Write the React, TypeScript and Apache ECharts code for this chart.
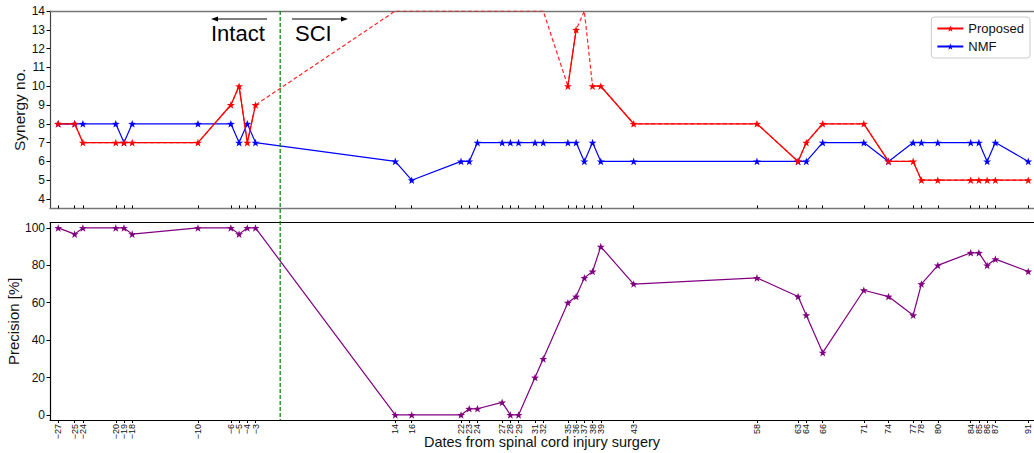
import React, { useEffect, useRef } from "react";
import * as echarts from "echarts";

// Days relative to spinal cord injury surgery
const days = [-27, -25, -24, -20, -19, -18, -10, -6, -5, -4, -3, 14, 16, 22, 23, 24, 27, 28, 29, 31, 32, 35, 36, 37, 38, 39, 43, 58, 63, 64, 66, 71, 74, 77, 78, 80, 84, 85, 86, 87, 91];

// Synergy numbers (null = off the top of the scale)
const proposed = [8, 8, 7, 7, 7, 7, 7, 9, 10, 7, 9, null, null, null, null, null, null, null, null, null, null, 10, 13, null, 10, 10, 8, 8, 6, 7, 8, 8, 6, 6, 5, 5, 5, 5, 5, 5, 5];
const nmf = [8, 8, 8, 8, 7, 8, 8, 8, 7, 8, 7, 6, 5, 6, 6, 7, 7, 7, 7, 7, 7, 7, 7, 6, 7, 6, 6, 6, 6, 6, 7, 7, 6, 7, 7, 7, 7, 7, 6, 7, 6];

// Precision [%]
const precision = [100, 96.7, 100, 100, 100, 96.7, 100, 100, 96.7, 100, 100, 0, 0, 0, 3.3, 3.3, 6.7, 0, 0, 20, 30, 60, 63.3, 73.3, 76.7, 90, 70, 73.3, 63.3, 53.3, 33.3, 66.7, 63.3, 53.3, 70, 80, 86.7, 86.7, 80, 83.3, 76.7];

const synergyTicks = [4, 5, 6, 7, 8, 9, 10, 11, 12, 13, 14];
const precisionTicks = [0, 20, 40, 60, 80, 100];
const SYN_MIN = 3.5;
const SYN_MAX = 14;
const PREC_MIN = -2.7;
const PREC_MAX = 102.8;
const X_MIN = -28;
const X_MAX = 91.7;

const STAR = "path://M0,-10 L2.35,-3.24 L9.51,-3.09 L3.8,1.24 L5.88,8.09 L0,4 L-5.88,8.09 L-3.8,1.24 L-9.51,-3.09 L-2.35,-3.24 Z";
const FONT = "Liberation Sans, Arial, sans-serif";

export default function App() {
  const ref = useRef<HTMLDivElement>(null);
  useEffect(() => {
    if (!ref.current) return;
    const chart = echarts.init(ref.current, undefined, { renderer: "svg" });
    const pair = (arr: (number | null)[]) => days.map((d, i) => [d, arr[i]]);
    const capped = days.map((d, i) => [d, proposed[i] === null ? SYN_MAX : proposed[i]]);

    const tickLabel = { fontFamily: FONT, fontSize: 12, color: "#111" };

    chart.setOption({
      animation: false,
      backgroundColor: "#fff",
      grid: [
        { left: 50, right: 0, top: 11, height: 197.4, show: false, containLabel: false, outerBoundsMode: "none" },
        { left: 50, right: 0, top: 222.7, height: 197.3, show: false, containLabel: false, outerBoundsMode: "none" },
      ],
      xAxis: [
        {
          type: "value", gridIndex: 0, min: X_MIN, max: X_MAX, position: "bottom",
          axisLine: { show: true, onZero: false, lineStyle: { color: "#777", width: 1.3 } },
          axisTick: { show: true, inside: true, length: 3, customValues: days, lineStyle: { color: "#000" } },
          axisLabel: { show: false },
          splitLine: { show: false },
        },
        {
          type: "value", gridIndex: 0, min: X_MIN, max: X_MAX, position: "top",
          axisLine: { show: true, onZero: false, lineStyle: { color: "#777", width: 1.3 } },
          axisTick: { show: false }, axisLabel: { show: false }, splitLine: { show: false },
        },
        {
          type: "value", gridIndex: 1, min: X_MIN, max: X_MAX, position: "bottom",
          name: "Dates from spinal cord injury surgery",
          nameLocation: "middle", nameGap: 14, nameMoveOverlap: false,
          nameTextStyle: { fontFamily: FONT, fontSize: 14.5, color: "#111", verticalAlign: "top" },
          axisLine: { show: true, onZero: false, lineStyle: { color: "#000", width: 1.2 } },
          axisTick: { show: true, length: 3, customValues: days, lineStyle: { color: "#000" } },
          axisLabel: {
            ...tickLabel, fontSize: 9, rotate: 90, margin: 4, customValues: days,
            formatter: (v: number) => (v < 0 ? "\u2212" + Math.abs(v) : String(v)),
          },
          splitLine: { show: false },
        },
        {
          type: "value", gridIndex: 1, min: X_MIN, max: X_MAX, position: "top",
          axisLine: { show: true, onZero: false, lineStyle: { color: "#000", width: 1.2 } },
          axisTick: { show: false }, axisLabel: { show: false }, splitLine: { show: false },
        },
      ],
      yAxis: [
        {
          type: "value", gridIndex: 0, min: SYN_MIN, max: SYN_MAX,
          name: "Synergy no.", nameLocation: "middle", nameGap: 23, nameMoveOverlap: false,
          nameTextStyle: { fontFamily: FONT, fontSize: 15.5, color: "#111" },
          axisLine: { show: true, onZero: false, lineStyle: { color: "#444", width: 1.2 } },
          axisTick: { show: true, length: 3.5, customValues: synergyTicks, lineStyle: { color: "#000" } },
          axisLabel: { ...tickLabel, margin: 5, customValues: synergyTicks },
          splitLine: { show: false },
        },
        {
          type: "value", gridIndex: 1, min: PREC_MIN, max: PREC_MAX,
          name: "Precision [%]", nameLocation: "middle", nameGap: 29, nameMoveOverlap: false,
          nameTextStyle: { fontFamily: FONT, fontSize: 15, color: "#111" },
          axisLine: { show: true, onZero: false, lineStyle: { color: "#000", width: 1.2 } },
          axisTick: { show: true, length: 3.5, customValues: precisionTicks, lineStyle: { color: "#000" } },
          axisLabel: { ...tickLabel, margin: 5, customValues: precisionTicks },
          splitLine: { show: false },
        },
      ],
      legend: {
        orient: "vertical", right: 4, top: 17,
        data: ["Proposed", "NMF"],
        backgroundColor: "#fff",
        borderColor: "#ccc", borderWidth: 1, borderRadius: 3,
        padding: [5, 6, 5, 5], itemGap: 5, itemWidth: 26, itemHeight: 8,
        textStyle: { fontFamily: FONT, fontSize: 13, color: "#111" },
      },
      series: [
        {
          name: "Proposed (off-scale)", type: "line", xAxisIndex: 0, yAxisIndex: 0,
          data: capped, showSymbol: false, symbol: "none", z: 1, clip: true,
          lineStyle: { color: "red", width: 1.2, type: [4, 2.5], opacity: 0.85 },
          itemStyle: { color: "red" },
        },
        {
          name: "Proposed", type: "line", xAxisIndex: 0, yAxisIndex: 0,
          data: pair(proposed), connectNulls: false, symbol: STAR, symbolSize: 8, symbolKeepAspect: true,
          z: 3, lineStyle: { color: "red", width: 1.3 }, itemStyle: { color: "red" },
        },
        {
          name: "NMF", type: "line", xAxisIndex: 0, yAxisIndex: 0,
          data: pair(nmf), symbol: STAR, symbolSize: 8, symbolKeepAspect: true,
          z: 2, lineStyle: { color: "blue", width: 1.2 }, itemStyle: { color: "blue" },
        },
        {
          name: "Precision", type: "line", xAxisIndex: 2, yAxisIndex: 1,
          data: pair(precision), symbol: STAR, symbolSize: 8, symbolKeepAspect: true,
          lineStyle: { color: "#800080", width: 1.2 }, itemStyle: { color: "#800080" },
        },
      ],
    });

    const x0 = chart.convertToPixel({ xAxisIndex: 0 }, 0) as number;
    const yTop = chart.convertToPixel({ yAxisIndex: 0 }, SYN_MAX) as number;
    const yBot = chart.convertToPixel({ yAxisIndex: 1 }, PREC_MIN) as number;
    chart.setOption({
      graphic: [
        { type: "line", shape: { x1: x0, y1: yTop, x2: x0, y2: yBot }, style: { stroke: "#008000", lineWidth: 1.2, lineDash: [4, 2] }, z: 10 },
        { type: "line", shape: { x1: 267, y1: 19, x2: 216, y2: 19 }, style: { stroke: "#000", lineWidth: 1 } },
        { type: "polygon", shape: { points: [[211, 19], [218, 16.5], [218, 21.5]] }, style: { fill: "#000" } },
        { type: "line", shape: { x1: 292, y1: 19, x2: 343, y2: 19 }, style: { stroke: "#000", lineWidth: 1 } },
        { type: "polygon", shape: { points: [[348, 19], [341, 16.5], [341, 21.5]] }, style: { fill: "#000" } },
        { type: "text", x: 211, y: 44, style: { text: "Intact", font: `22px ${FONT}`, fill: "#000", textVerticalAlign: "bottom" } },
        { type: "text", x: 295, y: 44, style: { text: "SCI", font: `22px ${FONT}`, fill: "#000", textVerticalAlign: "bottom" } },
      ],
    });
    return () => chart.dispose();
  }, []);
  return <div ref={ref} style={{ position: "absolute", left: 0, top: 0, width: 1034, height: 453 }} />;
}
